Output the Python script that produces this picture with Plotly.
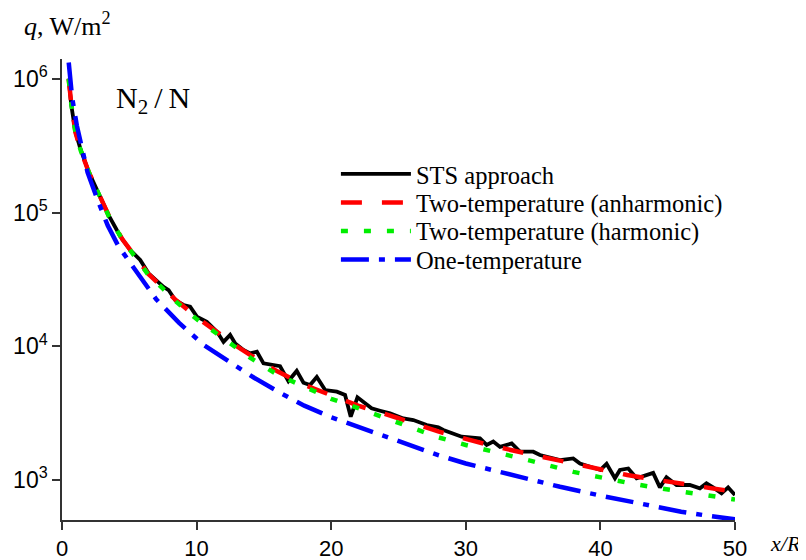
import plotly.graph_objects as go

# ---- data ----
sts_x = [0.49, 0.69, 0.99, 1.36, 1.98, 2.6, 3.46, 4.08, 4.45, 5.07, 5.81, 6.43, 7.54, 7.92, 8.41,
         9.03, 9.52, 10.02, 10.76, 11.51, 12.0, 12.49, 12.87, 13.48, 13.98, 14.48, 14.97, 16.2,
         16.82, 17.44, 17.94, 18.43, 18.93, 19.55, 20.42, 21.03, 21.45, 21.95, 23.0, 23.63, 24.37,
         25.36, 26.1, 27.1, 27.96, 28.33, 29.07, 29.69, 31.05, 31.55, 32.04, 32.54, 33.41, 34.02,
         35.01, 35.51, 37.0, 37.98, 38.48, 40.0, 40.46, 41.08, 41.45, 42.07, 42.69, 43.43, 43.92,
         44.42, 44.91, 45.66, 46.64, 47.39, 47.88, 48.37, 49.0, 49.49, 50.0]
sts_y = [1.01e6, 6.4e5, 4.04e5, 3.03e5, 2.02e5, 1.48e5, 9.6e4, 7.4e4, 6.4e4, 5.26e4, 4.43e4, 3.52e4,
         2.79e4, 2.64e4, 2.22e4, 2.04e4, 1.98e4, 1.67e4, 1.53e4, 1.29e4, 1.08e4, 1.22e4, 1.05e4,
         9400, 8870, 9120, 7460, 7100, 5500, 6550, 5350, 5140, 5900, 4710, 4580, 4330, 2980, 4160,
         3440, 3300, 3150, 2890, 2810, 2580, 2480, 2370, 2230, 2110, 2050, 1830, 1940, 1770, 1880,
         1630, 1630, 1540, 1410, 1450, 1330, 1190, 1320, 1030, 1190, 1220, 1030, 1090, 1130, 881,
         1050, 918, 918, 867, 944, 881, 795, 881, 773]

anh_x = [0.5, 0.7, 1.0, 1.4, 2.0, 2.6, 3.5, 4.5, 5.3, 6.4, 7.5, 8.5, 10.0, 11.5, 13.0, 14.0, 16.0,
         18.0, 20.0, 22.0, 25.0, 28.0, 30.0, 32.0, 35.0, 38.0, 40.0, 42.0, 44.0, 46.0, 48.0, 50.0]
anh_y = [1.0e6, 6.4e5, 4.0e5, 2.9e5, 2.0e5, 1.45e5, 9.4e4, 6.3e4, 4.9e4, 3.5e4, 2.75e4, 2.2e4,
         1.65e4, 1.28e4, 1.0e4, 8.6e3, 6.5e3, 5.15e3, 4.3e3, 3.6e3, 2.9e3, 2.3e3, 2.03e3, 1.8e3,
         1.54e3, 1.33e3, 1.2e3, 1.09e3, 1.01e3, 940, 875, 815]

harm_x = [0.5, 0.7, 1.0, 1.4, 2.0, 2.6, 3.5, 4.5, 5.3, 6.4, 7.5, 8.5, 10.0, 11.5, 13.0, 14.0, 16.0,
          18.0, 20.0, 22.0, 25.0, 28.0, 30.0, 32.0, 35.0, 38.0, 40.0, 42.0, 44.0, 46.0, 48.0, 50.0]
harm_y = [1.0e6, 6.4e5, 4.0e5, 2.9e5, 2.0e5, 1.45e5, 9.3e4, 6.25e4, 4.85e4, 3.45e4, 2.7e4, 2.15e4,
          1.6e4, 1.24e4, 9.6e3, 8.2e3, 6.15e3, 4.95e3, 4.05e3, 3.45e3, 2.68e3, 2.08e3, 1.83e3,
          1.64e3, 1.38e3, 1.15e3, 1.04e3, 955, 880, 820, 765, 715]

one_x = [0.5, 0.75, 1.1, 1.5, 1.9, 2.6, 3.4, 4.2, 5.6, 7.0, 8.7, 10.5, 12.5, 14.3, 16.2, 18.0,
         20.0, 22.0, 24.0, 26.0, 28.0, 30.0, 32.5, 35.0, 37.0, 40.0, 42.0, 44.0, 46.0, 48.0, 50.0]
one_y = [1.33e6, 7.3e5, 4.5e5, 2.9e5, 2.0e5, 1.28e5, 8.0e4, 5.6e4, 3.5e4, 2.25e4, 1.5e4, 1.03e4,
         7.6e3, 5.8e3, 4.5e3, 3.6e3, 2.95e3, 2.5e3, 2.1e3, 1.8e3, 1.53e3, 1.33e3, 1.15e3, 990, 890,
         765, 700, 630, 580, 540, 508]

names = ["STS approach", "Two-temperature (anharmonic)", "Two-temperature (harmonic)",
         "One-temperature"]
x_ticks = [0, 10, 20, 30, 40, 50]
y_ticks = [1e3, 1e4, 1e5, 1e6]
y_ticktext = ["10<sup>3</sup>", "10<sup>4</sup>", "10<sup>5</sup>", "10<sup>6</sup>"]

SERIF = "Liberation Serif, Times New Roman, serif"
SANS = "Liberation Sans, Arial, sans-serif"

fig = go.Figure()
fig.add_trace(go.Scatter(x=sts_x, y=sts_y, mode="lines", name=names[0], legend="legend",
                         line=dict(color="black", width=3.8)))
fig.add_trace(go.Scatter(x=anh_x, y=anh_y, mode="lines", name=names[1], legend="legend2",
                         line=dict(color="#ff0000", width=4.5, dash="21px,20px")))
fig.add_trace(go.Scatter(x=harm_x, y=harm_y, mode="lines", name=names[2], legend="legend3",
                         line=dict(color="#00ee00", width=4.5, dash="7px,16px")))
fig.add_trace(go.Scatter(x=one_x, y=one_y, mode="lines", name=names[3], legend="legend4",
                         line=dict(color="#0000ff", width=4.5, dash="28px,10px,6px,10px")))

row_y = [0.7505, 0.6887, 0.6269, 0.5651]


def leg(yv):
    return dict(x=0.407, y=yv, xanchor="left", yanchor="middle",
                font=dict(family=SERIF, size=24.5, color="black"),
                bgcolor="rgba(0,0,0,0)", borderwidth=0, itemwidth=70)


fig.update_layout(
    width=798, height=552,
    margin=dict(l=54, r=71, t=51, b=40, autoexpand=False),
    paper_bgcolor="white", plot_bgcolor="white",
    showlegend=True,
    legend=leg(row_y[0]), legend2=leg(row_y[1]), legend3=leg(row_y[2]), legend4=leg(row_y[3]),
    xaxis=dict(range=[0, 50], tickvals=x_ticks, showgrid=False, zeroline=False,
               automargin=False,
               showline=True, linecolor="#333333", linewidth=1.5,
               ticks="outside", ticklen=8, tickwidth=1.5, tickcolor="#333333",
               tickfont=dict(family=SANS, size=22, color="black")),
    yaxis=dict(type="log", range=[2.701, 6.150], tickvals=y_ticks, ticktext=y_ticktext,
               showgrid=False, zeroline=False, automargin=False,
               showline=True, linecolor="#333333", linewidth=1.5,
               ticks="outside", ticklen=8, tickwidth=1.5, tickcolor="#333333",
               tickfont=dict(family=SANS, size=23, color="black")),
    annotations=[
        dict(text="<i>q</i>, W/m<sup>2</sup>", xref="paper", yref="paper",
             x=-0.0595, y=1.075, xanchor="left", yanchor="middle", showarrow=False,
             font=dict(family=SERIF, size=26, color="black")),
        dict(text="N<sub>2</sub>\u2009/\u2009N", xref="paper", yref="paper",
             x=0.135, y=0.911, xanchor="center", yanchor="middle", showarrow=False,
             font=dict(family=SERIF, size=30, color="black")),
        dict(text="<i>x/R</i>", xref="paper", yref="paper",
             x=1.075, y=-0.05, xanchor="center", yanchor="middle", showarrow=False,
             font=dict(family=SERIF, size=22, color="black")),
    ],
)

fig.write_html("out.html")
